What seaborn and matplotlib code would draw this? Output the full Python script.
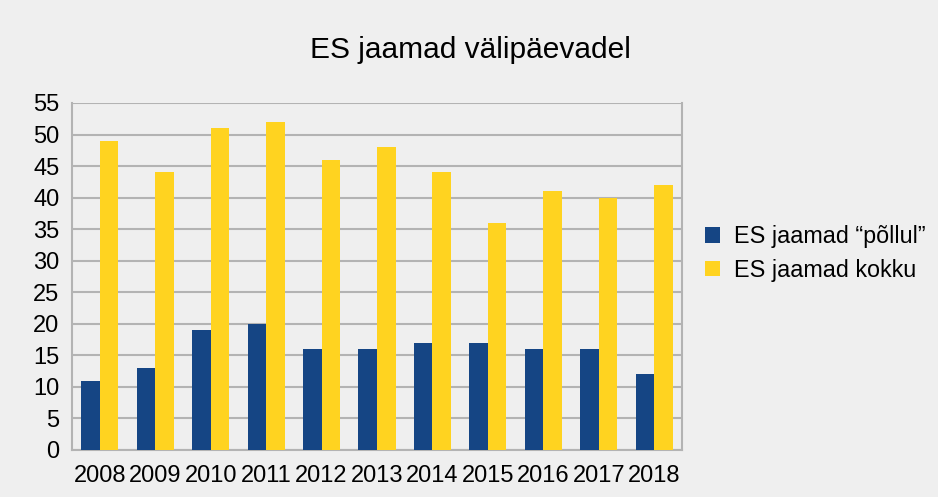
import pandas as pd
import numpy as np
import matplotlib
matplotlib.use('Agg')
import matplotlib.pyplot as plt
import seaborn as sns

years = ['2008', '2009', '2010', '2011', '2012', '2013', '2014', '2015', '2016', '2017', '2018']
pollul = [11, 13, 19, 20, 16, 16, 17, 17, 16, 16, 12]
kokku = [49, 44, 51, 52, 46, 48, 44, 36, 41, 40, 42]
series = ['ES jaamad \u201cpõllul\u201d', 'ES jaamad kokku']

df = pd.DataFrame({
    'aasta': years * 2,
    'jaamu': pollul + kokku,
    'seeria': [series[0]] * len(years) + [series[1]] * len(years),
})

bg = '#efefef'
grid = '#b3b3b3'
sns.set_theme(style='white')
plt.rcParams['font.family'] = ['Liberation Sans', 'DejaVu Sans']
plt.rcParams['text.color'] = 'black'

fig = plt.figure(figsize=(9.38, 4.97), dpi=100, facecolor=bg)
ax = fig.add_axes([0.0768, 0.0946, 0.6502, 0.6982])
ax.set_facecolor(bg)

sns.barplot(data=df, x='aasta', y='jaamu', hue='seeria', order=years,
            palette=['#154584', '#ffd320'], width=0.67, saturation=1,
            linewidth=0, ax=ax, zorder=3)

ax.set_ylim(0, 55)
ax.set_xlim(-0.5, len(years) - 0.5)
ax.set_yticks(np.arange(0, 56, 5))
ax.yaxis.grid(True, color=grid, linewidth=1.5, zorder=0)
ax.set_axisbelow(True)
for s in ax.spines.values():
    s.set_color(grid)
    s.set_linewidth(1.5)
ax.spines['top'].set_visible(False)

ax.set_xticks(np.arange(-0.5, len(years)), minor=True)
ax.tick_params(axis='x', which='major', length=0, labelsize=17, pad=11, labelcolor='black')
ax.tick_params(axis='x', which='minor', length=7, width=1.5, color=grid)
ax.tick_params(axis='y', length=6, width=1.5, color=grid, labelsize=17, pad=3, labelcolor='black')
ax.set_xlabel('')
ax.set_ylabel('')

fig.text(0.502, 0.9, 'ES jaamad välipäevadel', ha='center', va='center', fontsize=21.5, color='black')

leg = ax.legend(loc='center left', bbox_to_anchor=(1.003, 0.566), frameon=False,
                fontsize=16.8, handlelength=0.65, handleheight=0.65, handletextpad=0.6,
                labelspacing=0.45)
for t in leg.get_texts():
    t.set_color('black')

plt.savefig('out.png', dpi=100, facecolor=bg)
plt.close()
